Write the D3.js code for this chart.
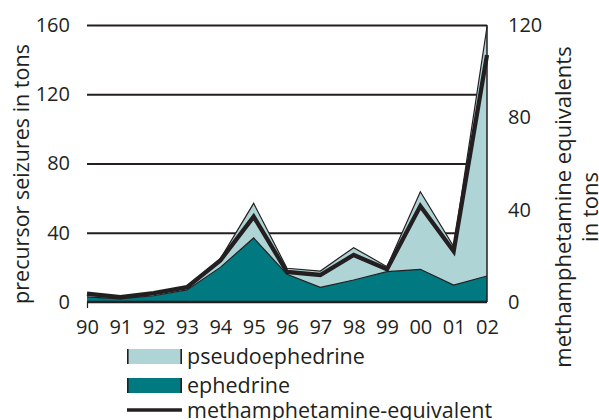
<!DOCTYPE html>
<html>
<head>
<meta charset="utf-8">
<script src="https://cdn.jsdelivr.net/npm/d3@7"></script>
<style>
  body { margin: 0; background: #fff; }
  svg { display: block; font-family: "Open Sans", sans-serif; }
</style>
</head>
<body>
<div id="chart"></div>
<script>
const years = ["90", "91", "92", "93", "94", "95", "96", "97", "98", "99", "00", "01", "02"];
// precursor seizures, tons (left axis)
const ephedrine = [3, 1.8, 3.6, 7, 20, 37, 16, 8.5, 12.7, 17.5, 18.9, 9.8, 15];
const pseudoephedrine = [1, 0.7, 0.9, 1.3, 5, 20, 3.5, 9.4, 18.7, 2.9, 44.8, 22.2, 144];
// methamphetamine equivalents, tons (right axis)
const methEquivalent = [3.6, 2.1, 3.8, 6.4, 18, 37, 13, 11.7, 20.4, 14.2, 41.6, 22, 107];
const leftTicks = [0, 40, 80, 120, 160];
const rightTicks = [0, 40, 80, 120];

const width = 599, height = 420;
const margin = { top: 25, right: 112, bottom: 118, left: 87 };
const innerW = width - margin.left - margin.right;
const innerH = height - margin.top - margin.bottom;
const ink = "#231f20";
const colors = { pseudo: "#aed4d6", eph: "#007980" };

const svg = d3.select("#chart").append("svg")
  .attr("width", width)
  .attr("height", height);
const g = svg.append("g").attr("transform", `translate(${margin.left},${margin.top})`);

const x = d3.scalePoint().domain(years).range([0, innerW]);
const y = d3.scaleLinear().domain([0, 160]).range([innerH, 0]);
const yRight = d3.scaleLinear().domain([0, 120]).range([innerH, 0]);

const rows = years.map((yr, i) => ({ year: yr, eph: ephedrine[i], pseudo: pseudoephedrine[i], meth: methEquivalent[i] }));
const stacked = d3.stack().keys(["eph", "pseudo"])(rows);

// gridlines behind the areas
g.append("g")
  .call(d3.axisLeft(y).tickValues(leftTicks.slice(1)).tickSize(-innerW).tickFormat(""))
  .call(s => s.select(".domain").remove())
  .selectAll("line")
  .attr("stroke", ink)
  .attr("stroke-width", 2);

const area = d3.area()
  .x(d => x(d.data.year))
  .y0(d => y(d[0]))
  .y1(d => y(d[1]));
const topLine = d3.line()
  .x(d => x(d.data.year))
  .y(d => y(d[1]));

// draw pseudo first (top layer), then ephedrine over it
[stacked[1], stacked[0]].forEach(layer => {
  g.append("path")
    .datum(layer)
    .attr("fill", colors[layer.key])
    .attr("d", area);
  g.append("path")
    .datum(layer)
    .attr("fill", "none")
    .attr("stroke", ink)
    .attr("stroke-width", 1.2)
    .attr("d", topLine);
});

const methLine = d3.line()
  .x(d => x(d.year))
  .y(d => yRight(d.meth));
g.append("path")
  .datum(rows)
  .attr("fill", "none")
  .attr("stroke", ink)
  .attr("stroke-width", 4.3)
  .attr("stroke-linejoin", "miter")
  .attr("d", methLine);

// left axis labels
g.append("g")
  .call(d3.axisLeft(y).tickValues(leftTicks).tickSize(0).tickPadding(17))
  .call(s => s.select(".domain").remove())
  .selectAll("text")
  .attr("fill", ink)
  .style("font-size", "20px")
  .style("font-family", "Open Sans");

// right axis
g.append("line")
  .attr("x1", innerW).attr("x2", innerW)
  .attr("y1", 0).attr("y2", innerH)
  .attr("stroke", ink)
  .attr("stroke-width", 1.5);
g.append("g")
  .attr("transform", `translate(${innerW},0)`)
  .call(d3.axisRight(yRight).tickValues(rightTicks).tickSize(0).tickPadding(21))
  .call(s => s.select(".domain").remove())
  .selectAll("text")
  .attr("fill", ink)
  .style("font-size", "20px")
  .style("font-family", "Open Sans");

// bottom axis
const xAxis = g.append("g")
  .attr("transform", `translate(0,${innerH})`)
  .call(d3.axisBottom(x).tickSize(6).tickPadding(12));
xAxis.select(".domain")
  .attr("stroke", ink)
  .attr("stroke-width", 2.5)
  .attr("d", `M0,0H${innerW}`);
xAxis.selectAll(".tick line")
  .attr("stroke", ink)
  .attr("stroke-width", 1.2)
  .attr("opacity", (d, i) => i === 0 ? 1 : 0);
xAxis.selectAll(".tick text")
  .attr("fill", ink)
  .style("font-size", "20px")
  .style("font-family", "Open Sans");

// axis titles
svg.append("text")
  .attr("transform", "translate(21,174) rotate(-90)")
  .attr("text-anchor", "middle")
  .attr("dy", "0.35em")
  .attr("fill", ink)
  .style("font-size", "21.5px")
  .text("precursor seizures in tons");

const rightTitle = svg.append("text")
  .attr("transform", "translate(563,207) rotate(-90)")
  .attr("text-anchor", "middle")
  .attr("fill", ink)
  .style("font-size", "22px");
rightTitle.append("tspan").attr("x", 0).attr("dy", "0.35em").text("methamphetamine equivalents");
rightTitle.append("tspan").attr("x", 0).attr("dy", "1.25em").text("in tons");

// legend
const legendItems = [
  { label: "pseudoephedrine", type: "area", color: colors.pseudo },
  { label: "ephedrine", type: "area", color: colors.eph },
  { label: "methamphetamine-equivalent", type: "line" }
];
const legend = svg.append("g").attr("transform", "translate(127,349)");
legendItems.forEach((item, i) => {
  const row = legend.append("g").attr("transform", `translate(0,${i * 29})`);
  if (item.type === "area") {
    row.append("rect")
      .attr("width", 55).attr("height", 15)
      .attr("fill", item.color);
    [0.8, 54.2].forEach(px => {
      row.append("line")
        .attr("x1", px).attr("x2", px)
        .attr("y1", 0).attr("y2", 15)
        .attr("stroke", ink)
        .attr("stroke-width", 1.6);
    });
  } else {
    row.append("line")
      .attr("x1", 0).attr("x2", 55)
      .attr("y1", 3).attr("y2", 3)
      .attr("stroke", ink)
      .attr("stroke-width", 3.5);
  }
  row.append("text")
    .attr("x", 60)
    .attr("y", item.type === "area" ? 7.5 : 3)
    .attr("dy", "0.35em")
    .attr("fill", ink)
    .style("font-size", "21.5px")
    .text(item.label);
});
</script>
</body>
</html>
